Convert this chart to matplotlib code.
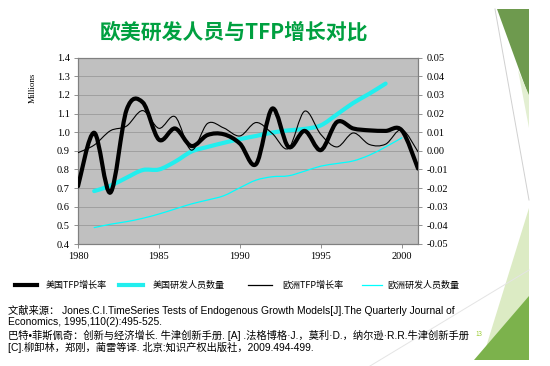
import matplotlib
matplotlib.use("Agg")
import matplotlib.pyplot as plt
from matplotlib.path import Path
from matplotlib.patches import PathPatch, Polygon
from matplotlib.lines import Line2D

plt.rcParams['font.family'] = ['Noto Sans CJK SC', 'DejaVu Sans']

# Données
years = list(range(1980, 2002))
us_tfp = [-0.019, 0.0097, -0.0224, 0.022, 0.026, 0.006, 0.012, 0.0026,
          0.0085, 0.0089, 0.0039, -0.0071, 0.0227, 0.0021, 0.0107, 0.0004,
          0.0155, 0.012, 0.011, 0.0107, 0.011, -0.0095]
eu_tfp = [-0.001, 0.0031, 0.0108, 0.0133, 0.0216, 0.0121, 0.0183, 0.0004,
          0.0147, 0.0123, 0.008, 0.0152, 0.0093, 0.0013, 0.0213, 0.0088,
          0.0021, 0.0096, 0.0034, 0.0036, 0.0114, -0.0005]
us_rd_years = list(range(1981, 2000))
us_rd = [0.684, 0.713, 0.756, 0.797, 0.800, 0.842, 0.896, 0.921, 0.943,
         0.963, 0.980, 0.998, 1.010, 1.018, 1.037, 1.096, 1.157, 1.207, 1.261]
eu_rd_years = list(range(1981, 2001))
eu_rd = [0.488, 0.506, 0.520, 0.538, 0.561, 0.588, 0.615, 0.636, 0.659,
         0.702, 0.743, 0.761, 0.766, 0.791, 0.818, 0.832, 0.846, 0.877,
         0.921, 0.970]

left_ticks = [0.4, 0.5, 0.6, 0.7, 0.8, 0.9, 1.0, 1.1, 1.2, 1.3, 1.4]
right_ticks = [-0.05, -0.04, -0.03, -0.02, -0.01, 0.0, 0.01, 0.02, 0.03, 0.04, 0.05]
year_ticks = [1980, 1985, 1990, 1995, 2000]

title = "欧美研发人员与TFP增长对比"
legend_labels = ["美国TFP增长率", "美国研发人员数量", "欧洲TFP增长率", "欧洲研发人员数量"]
ref_lines = [
    "文献来源： Jones.C.I.TimeSeries Tests of Endogenous Growth Models[J].The Quarterly Journal of",
    "Economics, 1995,110(2):495-525.",
    "巴特•菲斯佩奇：创新与经济增长. 牛津创新手册. [A] .法格博格·J.，莫利·D.，纳尔逊·R.R.牛津创新手册",
    "[C].柳卸林，郑刚，蔺雷等译. 北京:知识产权出版社，2009.494-499.",
]


def courbe_lissee(ax, x, y, **kw):
    """Trace une courbe lissée (style Excel) avec des segments de Bézier."""
    pts = list(zip(x, y))
    verts = [pts[0]]
    codes = [Path.MOVETO]
    n = len(pts)
    for i in range(n - 1):
        p0 = pts[i - 1] if i > 0 else pts[i]
        p1 = pts[i]
        p2 = pts[i + 1]
        p3 = pts[i + 2] if i + 2 < n else pts[i + 1]
        c1 = (p1[0] + (p2[0] - p0[0]) / 6, p1[1] + (p2[1] - p0[1]) / 6)
        c2 = (p2[0] - (p3[0] - p1[0]) / 6, p2[1] - (p3[1] - p1[1]) / 6)
        verts += [c1, c2, p2]
        codes += [Path.CURVE4] * 3
    patch = PathPatch(Path(verts, codes), fill=False, capstyle='round',
                      joinstyle='round', **kw)
    ax.add_patch(patch)


fig = plt.figure(figsize=(5.5, 3.66), dpi=100)
fig.patch.set_facecolor('white')

# décoration verte à droite
fig.add_artist(Polygon([(497/550, 1-9/366), (529/550, 1-9/366), (529/550, 1-97/366)],
                       closed=True, transform=fig.transFigure,
                       facecolor='#6e9a4e', edgecolor='none'))
fig.add_artist(Polygon([(518/550, 1-70/366), (529/550, 1-95/366), (529/550, 1-128/366)],
                       closed=True, transform=fig.transFigure,
                       facecolor='#e3efd2', edgecolor='none'))
fig.add_artist(Polygon([(529/550, 1-208/366), (529/550, 1-360/366), (482/550, 1-360/366)],
                       closed=True, transform=fig.transFigure,
                       facecolor='#dcebc4', edgecolor='none'))
fig.add_artist(Polygon([(529/550, 1-296/366), (529/550, 1-360/366), (474/550, 1-360/366)],
                       closed=True, transform=fig.transFigure,
                       facecolor='#7cb24c', edgecolor='none'))
fig.add_artist(Line2D([495/550, 529/550], [1-9/366, 1-200/366],
                      transform=fig.transFigure, color='#d0d0d0', lw=0.7))
fig.add_artist(Line2D([370/550, 529/550], [1-366/366, 1-270/366],
                      transform=fig.transFigure, color='#e4e4e4', lw=0.7))

ax = fig.add_axes([78/550, 1-244/366, 340/550, 186.3/366])
ax.set_facecolor('#c0c0c0')
ax.set_xlim(1980, 2001)
ax.set_ylim(0.4, 1.4)
ax.set_yticks(left_ticks)
ax.set_yticklabels([f"{v:.1f}" for v in left_ticks], family='Liberation Serif',
                   fontsize=7.5)
ax.set_xticks(year_ticks)
ax.set_xticklabels([str(y) for y in year_ticks], family='Liberation Serif',
                   fontsize=7.5)
ax.grid(axis='y', color='#9a9a9a', linewidth=0.6)
ax.set_axisbelow(True)
ax.tick_params(axis='both', length=3, width=0.6, color='#808080', pad=3)
for s in ax.spines.values():
    s.set_color('#808080')
    s.set_linewidth(0.8)
ax.set_ylabel("Millions", family='Liberation Serif', fontsize=6.5, labelpad=6)
ax.yaxis.set_label_coords(-0.12, 0.84)

ax2 = ax.twinx()
ax2.set_ylim(-0.05, 0.05)
ax2.set_yticks(right_ticks)
ax2.set_yticklabels([f"{v:.2f}" for v in right_ticks], family='Liberation Serif',
                    fontsize=7.5)
ax2.tick_params(axis='y', length=3, width=0.6, color='#808080', pad=3)
for s in ax2.spines.values():
    s.set_color('#808080')
    s.set_linewidth(0.8)

courbe_lissee(ax, eu_rd_years, eu_rd, edgecolor='#00ffff', linewidth=0.9, zorder=3)
courbe_lissee(ax, us_rd_years, us_rd, edgecolor='#22eeee', linewidth=3.0, zorder=3)
courbe_lissee(ax2, years, eu_tfp, edgecolor='black', linewidth=0.8, zorder=3)
courbe_lissee(ax2, years, us_tfp, edgecolor='black', linewidth=3.0, zorder=4)

# titre
fig.text(234/550, 1-32/366, title, color='#00a040', fontsize=15,
         fontweight='bold', ha='center', va='center')

# légende manuelle
styles = [('black', 3.0), ('#22eeee', 3.0), ('black', 0.9), ('#00ffff', 0.9)]
line_x = [(15, 37), (119, 143), (248, 272), (362, 382)]
text_x = [46, 153, 282, 387]
ly = 1 - 285/366
for (c, lw), (x0, x1), tx, lab in zip(styles, line_x, text_x, legend_labels):
    fig.add_artist(Line2D([x0/550, x1/550], [ly, ly], transform=fig.transFigure,
                          color=c, lw=lw))
    fig.text(tx/550, ly, lab, fontsize=6.5, va='center', ha='left')

# références
ref_y = [310, 322, 335, 347]
for txt, y in zip(ref_lines, ref_y):
    fig.text(8/550, 1-y/366, txt, fontsize=7.4, va='center', ha='left',
             family=['Liberation Sans', 'Noto Sans CJK SC'])
fig.text(475/550, 1-334/366, "13", fontsize=4.5, color='#9acd32',
         va='center', ha='left')

fig.savefig("out.png", dpi=100)
